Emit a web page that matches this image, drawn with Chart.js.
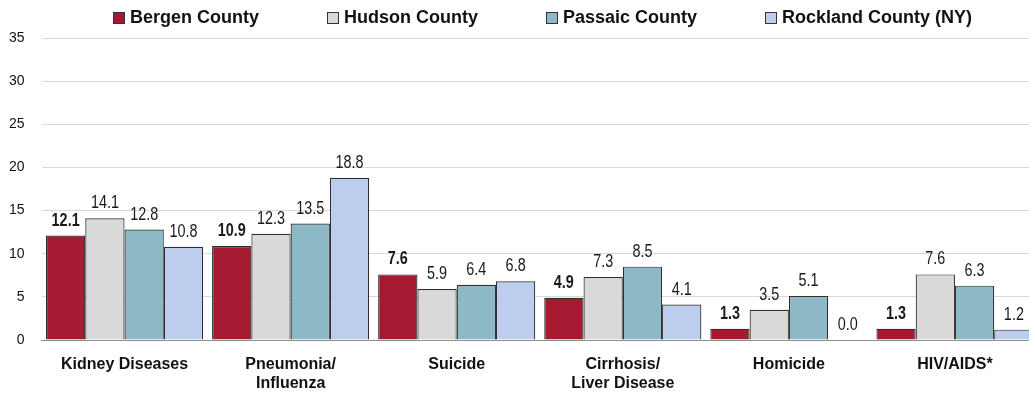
<!DOCTYPE html>
<html>
<head>
<meta charset="utf-8">
<script src="https://cdn.jsdelivr.net/npm/chart.js@4/dist/chart.umd.min.js"></script>
<style>
  body { margin: 0; background: #fff; overflow: hidden; }
  #wrap { position: relative; width: 1029px; height: 395px; overflow: hidden; }
  #legend { position: absolute; top: 7px; left: 113px; display: flex; gap: 68px;
    font: bold 18px "Liberation Sans", Arial, sans-serif; color: #111; }
  #legend span.item { display: flex; align-items: center; }
  #legend i { display: inline-block; width: 10px; height: 10px; border: 1px solid #333; margin-right: 5px; }
  canvas { position: absolute; left: 0; top: 0; }
</style>
</head>
<body>
<div id="wrap">
  <canvas id="grafico" width="1040" height="395"></canvas>
  <div id="legend"></div>
</div>
<script>
var categorias = ['Kidney Diseases', ['Pneumonia/', 'Influenza'], 'Suicide', ['Cirrhosis/', 'Liver Disease'], 'Homicide', 'HIV/AIDS*'];
var nomes = ['Bergen County', 'Hudson County', 'Passaic County', 'Rockland County (NY)'];
var bergen = [12.1, 10.9, 7.6, 4.9, 1.3, 1.3];
var hudson = [14.1, 12.3, 5.9, 7.3, 3.5, 7.6];
var passaic = [12.8, 13.5, 6.4, 8.5, 5.1, 6.3];
var rockland = [10.8, 18.8, 6.8, 4.1, 0.0, 1.2];
var cores = ['#A51A30', '#D9D9D9', '#8DB8C5', '#BDCDEE'];
var yTicks = [0, 5, 10, 15, 20, 25, 30, 35];

var fonte = '"Liberation Sans", Arial, sans-serif';

// legenda em html
var leg = document.getElementById('legend');
nomes.forEach(function(n, i) {
  var s = document.createElement('span');
  s.className = 'item';
  s.innerHTML = '<i style="background:' + cores[i] + '"></i>' + n;
  leg.appendChild(s);
});

// rotulos dos valores (fonte estreita simulada com escala)
var valueLabels = {
  id: 'valueLabels',
  afterDatasetsDraw: function(chart) {
    var ctx = chart.ctx;
    chart.data.datasets.forEach(function(ds, i) {
      chart.getDatasetMeta(i).data.forEach(function(bar, j) {
        ctx.save();
        ctx.translate(bar.x, bar.y - 10);
        ctx.scale(0.8, 1);
        ctx.font = (i === 0 ? 'bold ' : '') + '18px ' + fonte;
        ctx.fillStyle = '#1a1a1a';
        ctx.textAlign = 'center';
        ctx.textBaseline = 'alphabetic';
        ctx.fillText(ds.data[j].toFixed(1), 0, 0);
        ctx.restore();
      });
    });
  }
};

var series = [bergen, hudson, passaic, rockland];
new Chart(document.getElementById('grafico'), {
  type: 'bar',
  data: {
    labels: categorias,
    datasets: series.map(function(d, i) {
      return {
        label: nomes[i],
        data: d,
        backgroundColor: cores[i],
        borderColor: '#2e2e2e',
        borderWidth: 1.2,
        categoryPercentage: 0.946,
        barPercentage: 1
      };
    })
  },
  options: {
    responsive: false,
    animation: false,
    layout: { padding: { top: 38, right: 2, left: 0, bottom: 0 } },
    plugins: { legend: { display: false }, tooltip: { enabled: false } },
    scales: {
      x: {
        grid: { display: false },
        border: { color: '#8c8c8c', width: 1 },
        ticks: { color: '#111', padding: 7, font: { family: fonte, size: 16, weight: 'bold' }, maxRotation: 0, autoSkip: false },
        afterFit: function(s) { s.height = 55; }
      },
      y: {
        min: 0, max: 35,
        afterBuildTicks: function(s) { s.ticks = yTicks.map(function(v) { return { value: v }; }); },
        grid: { color: '#d9d9d9', drawTicks: false },
        border: { display: false },
        ticks: { color: '#111', padding: 17, font: { family: fonte, size: 14 } },
        afterFit: function(s) { s.width = 41.5; }
      }
    }
  },
  plugins: [valueLabels]
});
</script>
</body>
</html>
